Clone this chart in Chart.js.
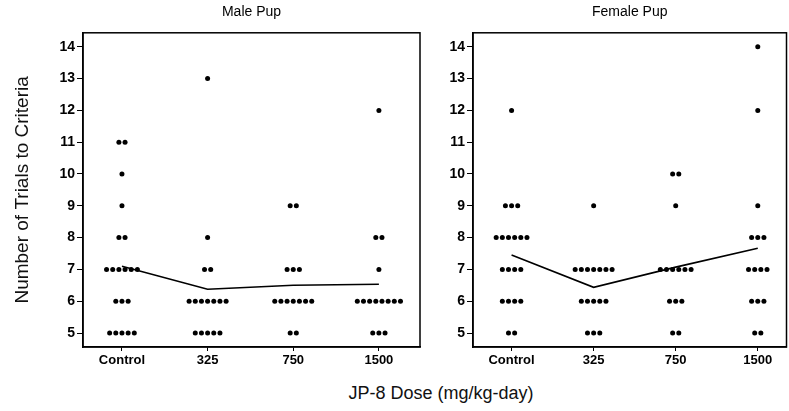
<!DOCTYPE html>
<html>
<head>
<meta charset="utf-8">
<script src="https://cdn.jsdelivr.net/npm/chart.js@4"></script>
<style>
  body { margin: 0; background: #fff; width: 789px; height: 411px; position: relative; overflow: hidden; font-family: "Liberation Sans", Arial, sans-serif; }
  .panel { position: absolute; top: 0; }
  #xTitle { position: absolute; left: 0; width: 882px; top: 383px; text-align: center; font-size: 18px; color: #111; }
</style>
</head>
<body>
<div class="panel" style="left:0;width:430px;height:372px"><canvas id="male"></canvas></div>
<div class="panel" style="left:430px;width:359px;height:372px"><canvas id="female"></canvas></div>
<div id="xTitle">JP-8 Dose (mg/kg-day)</div>
<script>
// dose groups and the trial values that show up on the y axis
const doses = ["Control", "325", "750", "1500"]
const trialValues = [5, 6, 7, 8, 9, 10, 11, 12, 13, 14]
const yTicks = [5, 6, 7, 8, 9, 10, 11, 12, 13, 14]

// number of pups at each trial value (index matches trialValues), per dose
const maleControl = [5, 3, 6, 2, 1, 1, 2, 0, 0, 0]
const male325     = [5, 7, 2, 1, 0, 0, 0, 0, 1, 0]
const male750     = [2, 7, 3, 0, 2, 0, 0, 0, 0, 0]
const male1500    = [3, 8, 1, 2, 0, 0, 0, 1, 0, 0]

const femaleControl = [2, 4, 4, 6, 3, 0, 0, 1, 0, 0]
const female325     = [3, 5, 7, 0, 1, 0, 0, 0, 0, 0]
const female750     = [2, 3, 6, 0, 1, 2, 0, 0, 0, 0]
const female1500    = [2, 3, 4, 3, 1, 0, 0, 1, 0, 1]

const maleCounts = [maleControl, male325, male750, male1500]
const femaleCounts = [femaleControl, female325, female750, female1500]

// spread tied values side by side like a dot plot
function dotPoints(groups, step) {
  let pts = []
  groups.forEach((counts, g) => {
    counts.forEach((n, k) => {
      for (let i = 0; i < n; i++) {
        pts.push({x: g + (i - (n - 1) / 2) * step, y: trialValues[k]})
      }
    })
  })
  return pts
}

function meanPoints(groups) {
  return groups.map((counts, g) => {
    let total = 0, n = 0
    counts.forEach((c, k) => { total += c * trialValues[k]; n += c })
    return {x: g, y: total / n}
  })
}

// draws the full box round the plot area
const frame = {
  id: 'frame',
  afterDraw(chart) {
    const a = chart.chartArea, ctx = chart.ctx
    ctx.save()
    ctx.strokeStyle = '#000'
    ctx.lineWidth = 1.5
    ctx.strokeRect(a.left, a.top, a.right - a.left, a.bottom - a.top)
    ctx.restore()
  }
}

const tickFont = {family: "'Liberation Sans', Arial, sans-serif", size: 14, weight: 'bold'}

function makeChart(id, title, groups, opts) {
  return new Chart(document.getElementById(id), {
    type: 'scatter',
    data: {
      datasets: [
        {
          data: dotPoints(groups, opts.step),
          pointRadius: 2.5,
          pointHoverRadius: 2.5,
          backgroundColor: '#000',
          borderWidth: 0
        },
        {
          type: 'line',
          data: meanPoints(groups),
          borderColor: '#000',
          borderWidth: 1.6,
          pointRadius: 0,
          tension: 0
        }
      ]
    },
    options: {
      responsive: true,
      maintainAspectRatio: false,
      animation: false,
      layout: {padding: {left: 0, right: opts.padRight, top: 0, bottom: 0}},
      plugins: {
        legend: {display: false},
        tooltip: {enabled: false},
        title: {
          display: true,
          fullSize: false,
          text: title,
          color: '#000',
          font: {family: "'Liberation Sans', Arial, sans-serif", size: 14, weight: 'normal'},
          padding: {top: 4, bottom: 12}
        }
      },
      scales: {
        x: {
          type: 'linear',
          min: opts.xMin,
          max: opts.xMax,
          afterBuildTicks: (scale) => { scale.ticks = doses.map((d, i) => ({value: i})) },
          afterFit: (scale) => { scale.height = 25 },
          ticks: {
            callback: (v) => doses[v],
            color: '#000',
            font: {family: "'Liberation Sans', Arial, sans-serif", size: 13, weight: 'bold'},
            padding: 2,
            maxRotation: 0,
            autoSkip: false
          },
          grid: {drawOnChartArea: false, drawTicks: true, tickLength: 4, color: '#000'},
          border: {color: '#000', width: 1.5}
        },
        y: {
          min: 4.56,
          max: 14.44,
          afterBuildTicks: (scale) => { scale.ticks = yTicks.map(v => ({value: v})) },
          afterFit: (scale) => { scale.width = opts.yWidth },
          ticks: {color: '#000', font: tickFont, padding: 2},
          grid: {drawOnChartArea: false, drawTicks: true, tickLength: 6, color: '#000'},
          border: {color: '#000', width: 1.5},
          title: {
            display: opts.yTitle,
            text: 'Number of Trials to Criteria',
            color: '#111',
            font: {family: "'Liberation Sans', Arial, sans-serif", size: 19},
            padding: {top: 11, bottom: 8}
          }
        }
      }
    },
    plugins: [frame]
  })
}

makeChart('male', 'Male Pup', maleCounts, {step: 0.072, xMin: -0.455, xMax: 3.48, yWidth: 83, padRight: 10, yTitle: true})
makeChart('female', 'Female Pup', femaleCounts, {step: 0.075, xMin: -0.47, xMax: 3.35, yWidth: 43, padRight: 1, yTitle: false})
</script>
</body>
</html>
